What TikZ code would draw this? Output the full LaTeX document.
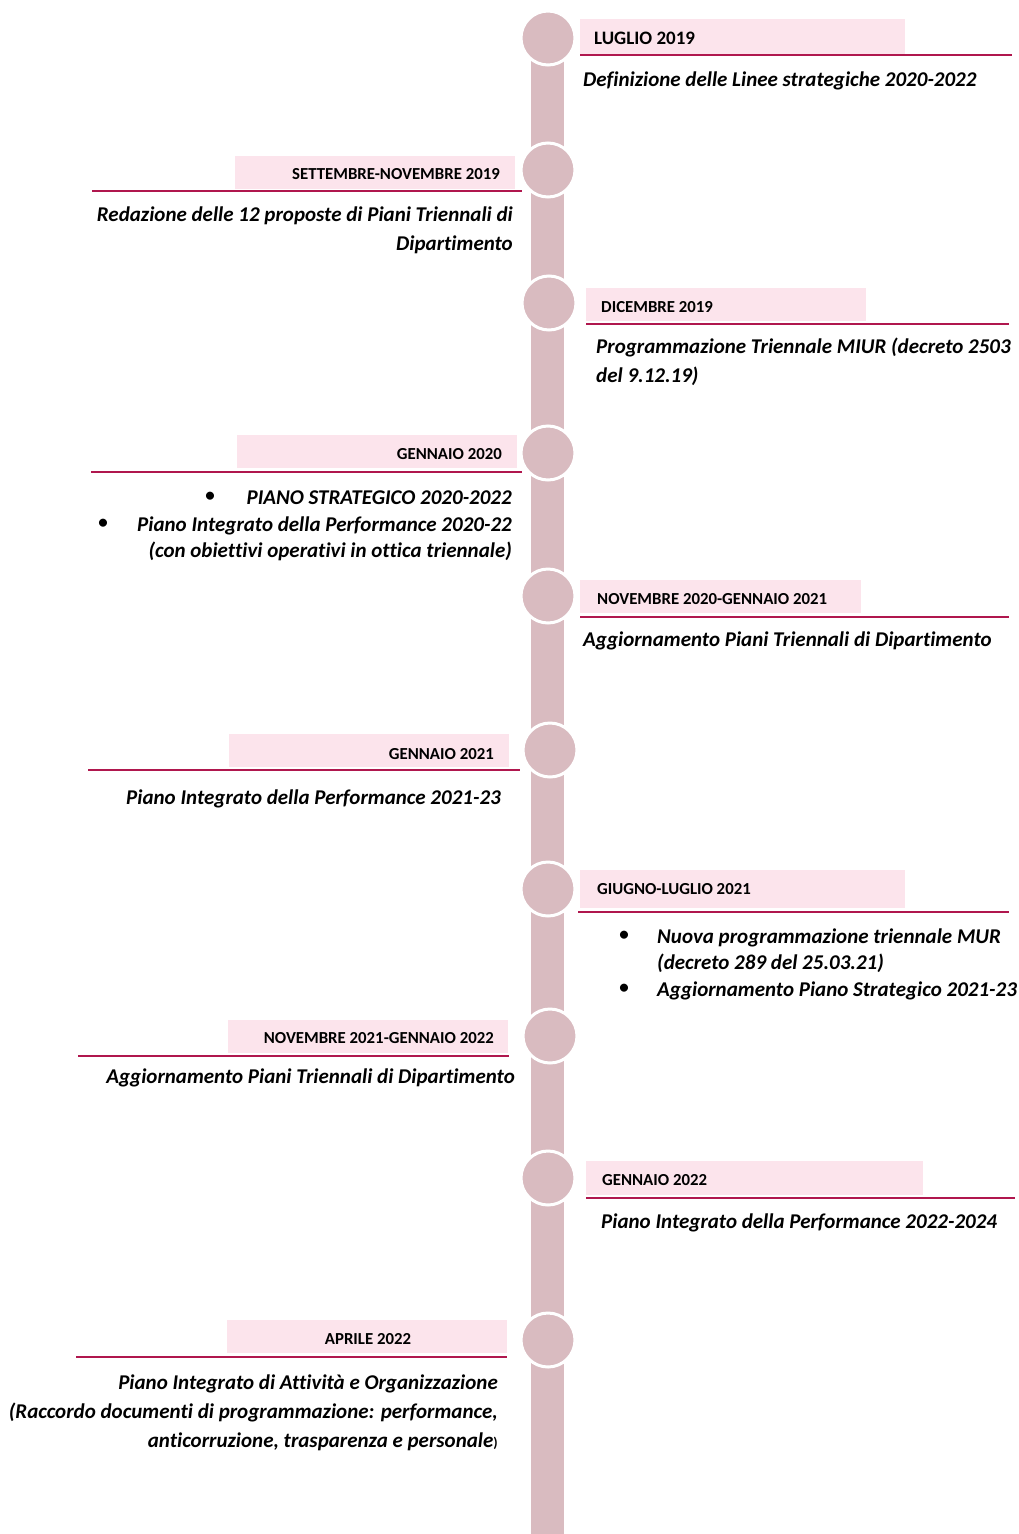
\documentclass[tikz,border=0pt]{standalone}
\usepackage{fontspec}
\setmainfont{Carlito}[Ligatures={NoCommon}]
\definecolor{barc}{HTML}{D9BBC0}
\definecolor{pinkbox}{HTML}{FCE4EC}
\definecolor{rulec}{HTML}{B0174E}
\begin{document}
\begin{tikzpicture}[x=1pt,y=-1pt,
  dot/.style={circle,fill=barc,draw=white,line width=3pt,minimum size=54pt,inner sep=0pt},
  hdr/.style={fill=pinkbox},
  hrule/.style={draw=rulec,line width=1.5pt},
  lab/.style={font=\bfseries\fontsize{16.8}{18}\selectfont,inner sep=0pt},
  body/.style={font=\bfseries\itshape\fontsize{21}{29}\selectfont,inner sep=0pt},
  bul/.style={font=\bfseries\fontsize{19}{20}\selectfont,inner sep=0pt}]
\useasboundingbox (0,0) rectangle (1019,1534);
% vertical bar
\fill[barc] (531,40) rectangle (564,1534);
% circles
\node[dot] (c1) at (548,38) {};
\node[dot] (c2) at (548,170) {};
\node[dot] (c3) at (549,303) {};
\node[dot] (c4) at (548,453) {};
\node[dot] (c5) at (548,596) {};
\node[dot] (c6) at (550,750) {};
\node[dot] (c7) at (548,889) {};
\node[dot] (c8) at (550,1036) {};
\node[dot] (c9) at (548,1178) {};
\node[dot] (c10) at (548,1340) {};
% header boxes
\fill[hdr] (580,19) rectangle (905,55);
\fill[hdr] (235,156) rectangle (515,189);
\fill[hdr] (586,288) rectangle (866,321);
\fill[hdr] (237,435) rectangle (517,468);
\fill[hdr] (580,580) rectangle (861,613);
\fill[hdr] (229,734) rectangle (509,767);
\fill[hdr] (580,870) rectangle (905,908);
\fill[hdr] (228,1020) rectangle (508,1053);
\fill[hdr] (586,1161) rectangle (923,1195);
\fill[hdr] (227,1320) rectangle (507,1353);
% rules
\draw[hrule] (580,55) -- (1012,55);
\draw[hrule] (92,191) -- (522,191);
\draw[hrule] (586,324) -- (1009,324);
\draw[hrule] (91,472) -- (522,472);
\draw[hrule] (580,617) -- (1009,617);
\draw[hrule] (88,770) -- (520,770);
\draw[hrule] (578,912) -- (1009,912);
\draw[hrule] (78,1056) -- (509,1056);
\draw[hrule] (586,1198) -- (1015,1198);
\draw[hrule] (76,1357) -- (507,1357);
% labels
\node[lab,anchor=base west,font=\bfseries\fontsize{19}{20}\selectfont] (l1) at (594,44) {LUGLIO 2019};
\node[lab,anchor=base east] (l2) at (500,179) {SETTEMBRE-NOVEMBRE 2019};
\node[lab,anchor=base west] (l3) at (601,312) {DICEMBRE 2019};
\node[lab,anchor=base east] (l4) at (502,459) {GENNAIO 2020};
\node[lab,anchor=base west] (l5) at (597,604) {NOVEMBRE 2020-GENNAIO 2021};
\node[lab,anchor=base east] (l6) at (494,759) {GENNAIO 2021};
\node[lab,anchor=base west] (l7) at (597,894) {GIUGNO-LUGLIO 2021};
\node[lab,anchor=base east] (l8) at (494,1043) {NOVEMBRE 2021-GENNAIO 2022};
\node[lab,anchor=base west] (l9) at (602,1185) {GENNAIO 2022};
\node[lab,anchor=base] (l10) at (368,1344) {APRILE 2022};
% bodies
\node[body,anchor=base west] (t1) at (583,86) {Definizione delle Linee strategiche 2020-2022};
\node[body,anchor=base east,align=right] (t2) at (513,250) {Redazione delle 12 proposte di Piani Triennali di\\Dipartimento};
\node[body,anchor=base west,align=left] (t3) at (596,382) {Programmazione Triennale MIUR (decreto 2503\\del 9.12.19)};
\node[bul] (b4a) at (210,497) {\textbullet};
\node[body,anchor=base east] (t4a) at (512,504) {PIANO STRATEGICO 2020-2022};
\node[bul] (b4b) at (103,524) {\textbullet};
\node[body,anchor=base east] (t4b) at (512,531) {Piano Integrato della Performance 2020-22};
\node[body,anchor=base east] (t4c) at (512,557) {(con obiettivi operativi in ottica triennale)};
\node[body,anchor=base west] (t5) at (583,646) {Aggiornamento Piani Triennali di Dipartimento};
\node[body,anchor=base east] (t6) at (501,804) {Piano Integrato della Performance 2021-23};
\node[bul] (b7a) at (624,936) {\textbullet};
\node[body,anchor=base west] (t7a) at (657,943) {Nuova programmazione triennale MUR};
\node[body,anchor=base west] (t7b) at (657,969) {(decreto 289 del 25.03.21)};
\node[bul] (b7b) at (624,989) {\textbullet};
\node[body,anchor=base west] (t7c) at (657,996) {Aggiornamento Piano Strategico 2021-23};
\node[body,anchor=base east] (t8) at (515,1083) {Aggiornamento Piani Triennali di Dipartimento};
\node[body,anchor=base west] (t9) at (601,1228) {Piano Integrato della Performance 2022-2024};
\node[body,anchor=base east,align=right] (t10) at (498,1447) {Piano Integrato di Attività e Organizzazione\\(Raccordo documenti di programmazione: performance,\\anticorruzione, trasparenza e personale{\upshape\fontsize{14}{16}\selectfont)}};
\end{tikzpicture}
\end{document}
